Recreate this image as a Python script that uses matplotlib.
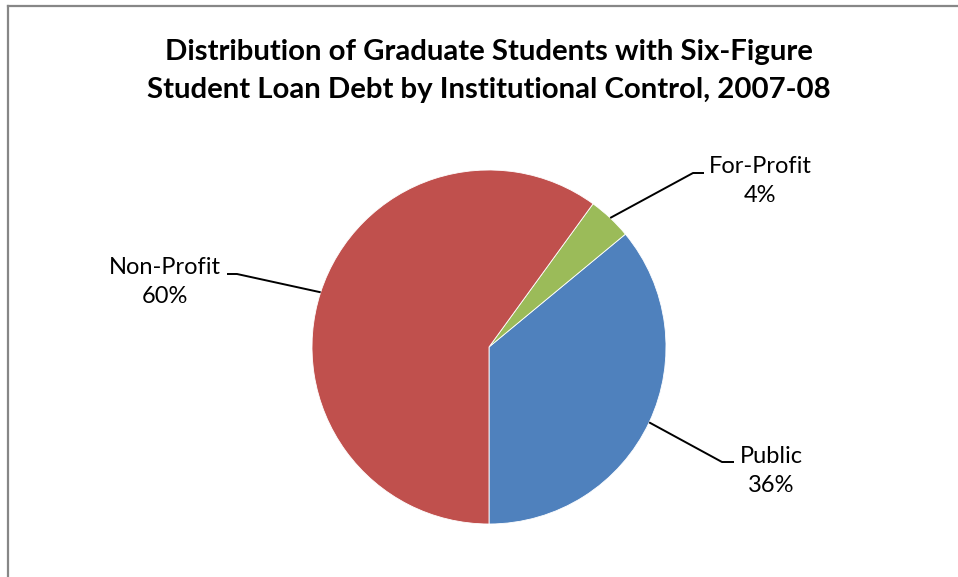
import numpy as np
import matplotlib
matplotlib.use('Agg')
import matplotlib.pyplot as plt
from matplotlib.lines import Line2D

# Pie data (drawn counter-clockwise starting from 6 o'clock)
categories = ['Public', 'For-Profit', 'Non-Profit']
shares = [36, 4, 60]
colors = ['#4F81BD', '#9BBB59', '#C0504D']

TITLE = 'Distribution of Graduate Students with Six-Figure\nStudent Loan Debt by Institutional Control, 2007-08'

W, H = 958, 577
CX, CY, R = 489, 347, 177  # pie centre / radius in pixels (from top-left)

# label layout, in pixels relative to the pie centre (x right, y up)
# (elbow, stub end, text centre)
label_layout = {
  'Public': ((233, -115), (245, -115), (282, -124)),
  'For-Profit': ((204, 174), (215, 174), (271, 166)),
  'Non-Profit': ((-252, 73), (-262, 73), (-324, 65)),
}

plt.rcParams['font.family'] = ['Lato', 'DejaVu Sans']

fig = plt.figure(figsize=(W / 100, H / 100), dpi=100)
fig.patch.set_facecolor('white')

# chart frame: only left and top edges visible
fx0, fy0 = 8 / W, 1 - 6 / H
fig.add_artist(Line2D([fx0, fx0], [0, fy0], transform=fig.transFigure, color='#878787', lw=1.6))
fig.add_artist(Line2D([fx0, 1], [fy0, fy0], transform=fig.transFigure, color='#878787', lw=1.6))

ax = fig.add_axes([(CX - R) / W, (H - CY - R) / H, 2 * R / W, 2 * R / H])
wedges, _ = ax.pie(shares, colors=colors, startangle=270, counterclock=True,
                   radius=1, wedgeprops=dict(edgecolor='white', linewidth=0.6))
ax.set_xlim(-1, 1)
ax.set_ylim(-1, 1)
ax.set_aspect('equal')
ax.axis('off')

total = sum(shares)
for w, name, val in zip(wedges, categories, shares):
  mid = np.deg2rad((w.theta1 + w.theta2) / 2)
  ax_pt = (np.cos(mid), np.sin(mid))
  elbow, stub, txt = label_layout[name]
  xs = [ax_pt[0], elbow[0] / R, stub[0] / R]
  ys = [ax_pt[1], elbow[1] / R, stub[1] / R]
  ax.plot(xs, ys, color='black', lw=1.4, clip_on=False, solid_capstyle='butt')
  ax.text(txt[0] / R, txt[1] / R, f'{name}\n{round(val / total * 100)}%',
          ha='center', va='center', fontsize=17, linespacing=1.45,
          color='black', clip_on=False)

fig.text(CX / W, 1 - 71 / H, TITLE, ha='center', va='center', fontsize=21.2,
         fontweight='bold', linespacing=1.57, color='black')

fig.savefig('out.png', dpi=100)
